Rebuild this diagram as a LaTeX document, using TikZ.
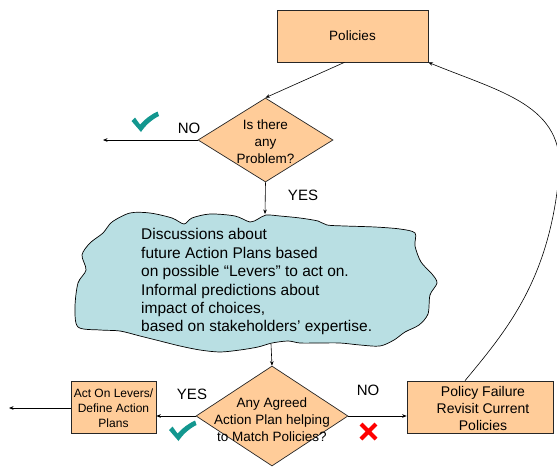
\documentclass[tikz,border=0pt]{standalone}
\usepackage{fontspec}
\setmainfont{Liberation Sans}
\usetikzlibrary{shapes.geometric,arrows.meta,calc}
\definecolor{boxfill}{HTML}{FFCC99}
\definecolor{cloudfill}{HTML}{B9DFE3}
\definecolor{chkteal}{HTML}{13978F}
\definecolor{xred}{HTML}{FF0000}
\tikzset{
  box/.style={draw=black!85, fill=boxfill, line width=0.7pt, inner sep=0pt, minimum height=52pt},
  decision/.style={diamond, draw=black!85, fill=boxfill, line width=0.7pt, inner sep=0pt},
  txt/.style={font=\fontsize{13.5}{17}\selectfont, align=center, inner sep=0pt},
  lbl/.style={font=\fontsize{15}{18}\selectfont, inner sep=0pt},
  arr/.style={-{Stealth[length=4.5pt,width=3.6pt]}, line width=0.6pt},
  chk/.pic={\fill[chkteal, line join=round] (-8.5,-10) -- (-5,-13.5) -- (0,-6.5)
     .. controls (5,-12) and (11,-16.5) .. (17.5,-19.5) -- (19,-15)
     .. controls (11,-11) and (5,-5) .. (1,1) -- cycle;},
}
\begin{document}
\begin{tikzpicture}[x=1pt,y=-1pt]
\useasboundingbox (0,0) rectangle (557,466);
% cloud
\path[fill=cloudfill, draw=black, line width=0.7pt] plot[smooth cycle, tension=0.5] coordinates {
 (103,233) (112,222) (130,213) (150,213) (172,218) (184,224) (192,218) (210,214)
 (235,216) (250,222) (258,219) (266,215) (280,216) (300,218) (318,221) (327,225)
 (345,226) (375,227) (400,229) (415,233) (415,246) (421,262) (432,274) (437,283)
 (430,295) (428,314) (419,325) (405,332) (394,340) (380,346) (360,345) (340,343)
 (318,343) (300,343) (288,341) (272,343) (258,347) (240,350) (220,352) (200,350)
 (180,346) (160,341) (140,336) (120,331) (100,330) (78,327) (75,307) (78,283)
 (86,270) (82,255) (90,243)};
\coordinate (cloudtop) at (265,214);
\coordinate (cloudbot) at (271,344);
\node[anchor=north west, inner sep=0pt, align=left, font=\fontsize{15.5}{18.4}\selectfont] (ctext) at (141,228.5)
 {Discussions about\\ future Action Plans based\\ on possible “Levers” to act on.\\ Informal predictions about\\ impact of choices,\\ based on stakeholders’ expertise.};
% boxes
\node[box, minimum width=151pt] (pol) at (352.5,36) {};
\node[txt] (poltxt) at (pol.center) {Policies};
\node[decision, minimum width=135pt, minimum height=84pt] (d1) at (265.5,140) {};
\node[txt] (d1txt) at (265.5,141.5) {Is there\\ any\\ Problem?};
\node[decision, minimum width=152pt, minimum height=100pt] (d2) at (272,416) {};
\node[txt] (d2txt) at (272,419.5) {Any Agreed\\ Action Plan helping\\ to Match Policies?};
\node[box, minimum width=85pt] (act) at (113.5,407) {};
\node[txt, font=\fontsize{12}{15}\selectfont] (acttxt) at (113.5,408) {Act On Levers/\\ Define Action\\ Plans};
\node[box, minimum width=146pt] (pf) at (480,407) {};
\node[txt, font=\fontsize{14}{16.8}\selectfont] (pftxt) at (483,408.5) {Policy Failure\\ Revisit Current\\ Policies};
% free ends
\coordinate (nofree) at (103,140);
\coordinate (actfree) at (9,408);
% connectors
\draw[arr] ([xshift=-8pt]pol.south) -- (d1.north);
\draw[arr] (d1.west) -- (nofree);
\draw[arr] (d1.south) -- (cloudtop);
\draw[arr] (cloudbot) -- (d2.north);
\draw[arr] (d2.west) -- (d2.west -| act.east);
\draw[arr] (act.west |- actfree) -- (actfree);
\draw[arr] (d2.east) -- (d2.east -| pf.west);
\draw[arr] ([xshift=-15pt]pf.north) .. controls (507,330) and (549,280) .. (559,175)
   .. controls (566,105) and (500,92) .. (pol.south east);
% labels
\node[lbl] (no1) at (189,128) {NO};
\node[lbl] (yes1) at (303,195) {YES};
\node[lbl] (yes2) at (192,394) {YES};
\node[lbl] (no2) at (368,390) {NO};
% marks
\pic at (140,131) {chk};
\pic at (177.5,440) {chk};
\draw[xred, line width=4pt] (361,424) -- (376,439) (376,424) -- (361,439);
\end{tikzpicture}
\end{document}
